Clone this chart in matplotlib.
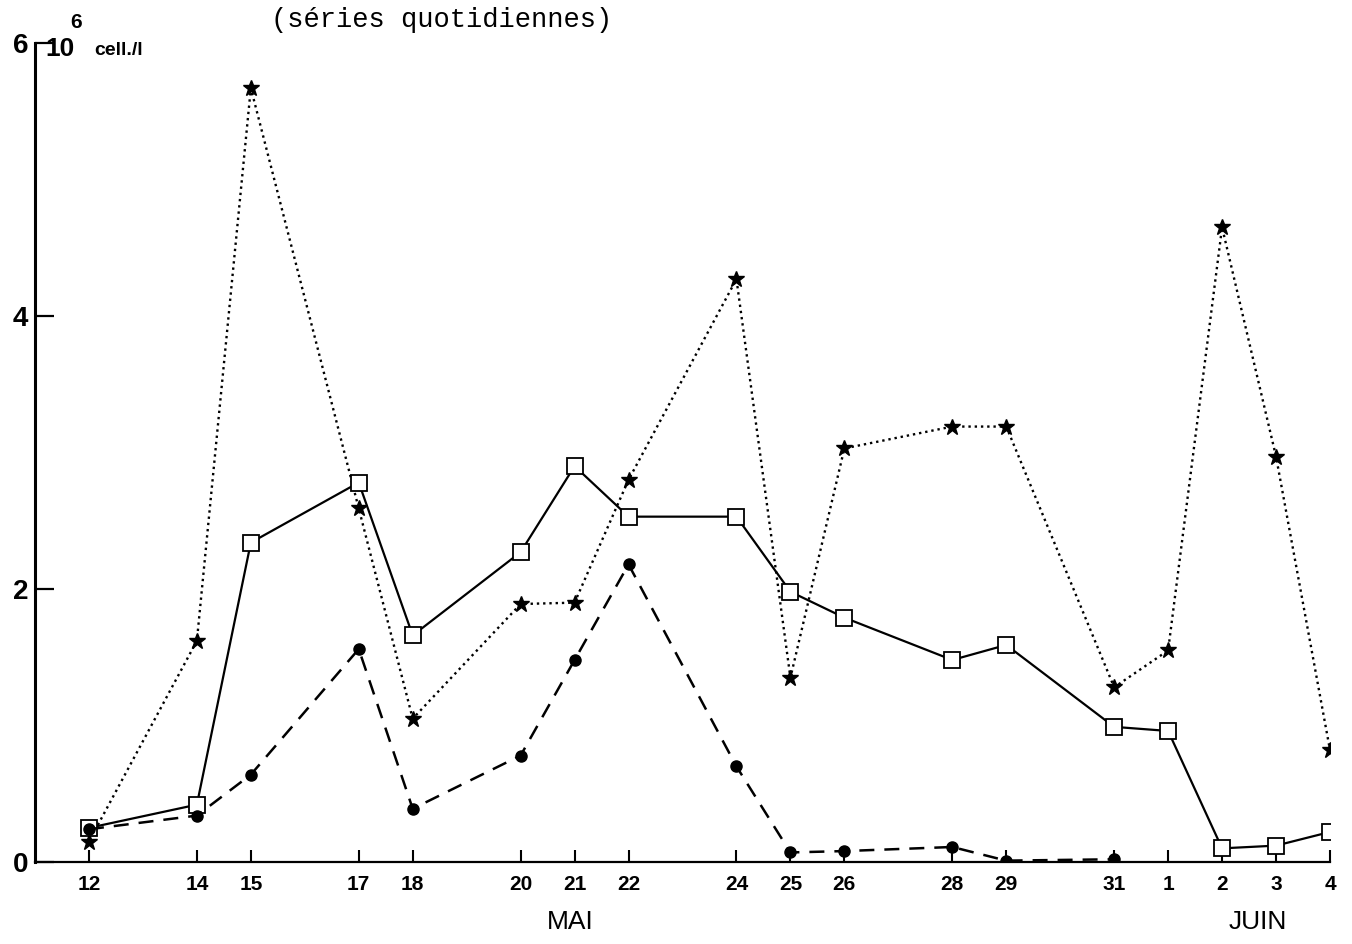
import matplotlib
matplotlib.use("Agg")
import matplotlib.pyplot as plt

# days: May 12 .. May 31, then June 1..4 (counted as 32..35)
days = [12, 14, 15, 17, 18, 20, 21, 22, 24, 25, 26, 28, 29, 31, 32, 33, 34, 35]
day_labels = ["12", "14", "15", "17", "18", "20", "21", "22", "24", "25", "26",
              "28", "29", "31", "1", "2", "3", "4"]

# 10^6 cells / l
stars = [0.15, 1.62, 5.67, 2.59, 1.05, 1.89, 1.90, 2.80, 4.27, 1.35, 3.03,
         3.19, 3.19, 1.28, 1.55, 4.65, 2.97, 0.82]
squares = [0.25, 0.42, 2.34, 2.78, 1.66, 2.27, 2.90, 2.53, 2.53, 1.98, 1.79,
           1.48, 1.59, 0.99, 0.96, 0.10, 0.12, 0.22]
circ_days = [12, 14, 15, 17, 18, 20, 21, 22, 24, 25, 26, 28, 29, 31]
circles = [0.24, 0.34, 0.64, 1.56, 0.39, 0.78, 1.48, 2.18, 0.70, 0.07, 0.08,
           0.11, 0.01, 0.02]

W, H = 1352, 944
fig = plt.figure(figsize=(W / 100, H / 100), dpi=100)
x0, x1, yb, yt = 35, 1330, 862, 43
ax = fig.add_axes([x0 / W, 1 - yb / H, (x1 - x0) / W, (yb - yt) / H])

ax.plot(days, stars, color="black", ls=":", lw=1.7, marker="*", ms=12,
        mfc="black", mec="black", mew=1.0, zorder=3)
ax.plot(days, squares, color="black", ls="-", lw=1.6, marker="s", ms=11,
        mfc="white", mec="black", mew=1.3, zorder=4)
ax.plot(circ_days, circles, color="black", ls=(0, (6, 4)), lw=1.8, marker="o",
        ms=8, mfc="black", mec="black", zorder=5)

ax.set_xlim(11, 35)
ax.set_ylim(0, 6)
for s in ["top", "right"]:
    ax.spines[s].set_visible(False)
ax.spines["left"].set_linewidth(2.2)
ax.spines["bottom"].set_linewidth(1.6)

ax.set_xticks(days)
ax.set_xticklabels(day_labels, fontsize=15, fontweight="bold", family="Liberation Sans")
ax.tick_params(axis="x", direction="in", length=9, width=1.5, pad=9)
ax.set_yticks([0, 2, 4, 6])
ax.set_yticklabels(["0", "2", "4", "6"], fontsize=20, fontweight="bold", family="Liberation Sans")
ax.tick_params(axis="y", direction="in", length=14, width=1.6, pad=5)

fig.text(45 / W, 1 - 56 / H, "10", fontsize=19, fontweight="bold", family="Liberation Sans",
         ha="left", va="baseline")
fig.text(70 / W, 1 - 28 / H, "6", fontsize=15, fontweight="bold", family="Liberation Sans",
         ha="left", va="baseline")
fig.text(94 / W, 1 - 55 / H, "cell./l", fontsize=14, fontweight="bold", family="Liberation Sans",
         ha="left", va="baseline")
fig.text(442 / W, 1 - 20 / H, "(séries quotidiennes)", fontsize=19.5, family="Liberation Mono",
         ha="center", va="center")

fig.text(570 / W, 1 - 922 / H, "MAI", fontsize=19, family="Liberation Sans", ha="center", va="center")
fig.text(1258 / W, 1 - 922 / H, "JUIN", fontsize=19, family="Liberation Sans", ha="center", va="center")

fig.savefig("out.png", dpi=100)
